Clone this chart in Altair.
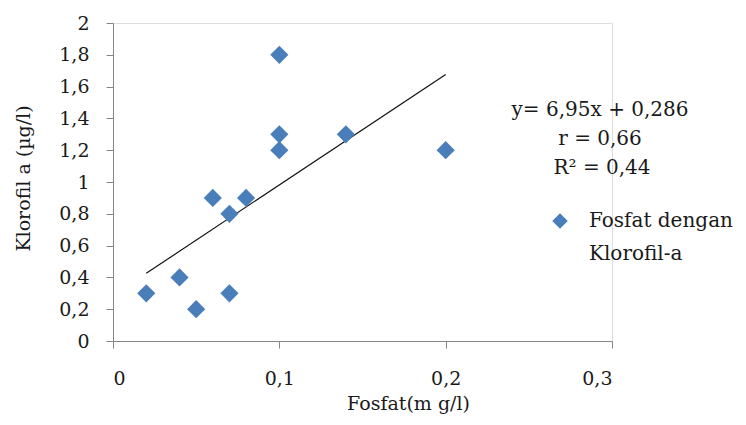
import altair as alt
import pandas as pd

fosfat = [0.02, 0.04, 0.05, 0.06, 0.07, 0.07, 0.08, 0.10, 0.10, 0.10, 0.14, 0.20]
klorofil = [0.3, 0.4, 0.2, 0.9, 0.8, 0.3, 0.9, 1.8, 1.3, 1.2, 1.3, 1.2]
series_name = "Fosfat dengan Klorofil-a"
legend_lines = ["Fosfat dengan", "Klorofil-a"]
x_ticks = [0, 0.1, 0.2, 0.3]
y_ticks = [0, 0.2, 0.4, 0.6, 0.8, 1.0, 1.2, 1.4, 1.6, 1.8, 2.0]
eq_lines = ["y= 6,95x + 0,286", "r = 0,66", "R² = 0,44"]
eq_x = [0.2928, 0.2928, 0.2940]
eq_y = [1.453, 1.270, 1.088]

df = pd.DataFrame({"x": fosfat, "y": klorofil, "s": [series_name] * len(fosfat)})
eq = pd.DataFrame({"t": eq_lines, "x": eq_x, "y": eq_y})

FONT = "DejaVu Serif"
TICK_FS = 19
TITLE_FS = 19
TEXT_FS = 20
INK = "#1a1a1a"

label_expr = "replace(format(datum.value, '.1~f'), '.', ',')"
xscale = alt.Scale(domain=[0, 0.3], nice=False, zero=True)
yscale = alt.Scale(domain=[0, 2], nice=False)

xaxis = alt.Axis(values=x_ticks, labelExpr=label_expr, labelOverlap=False,
                 grid=False, domainColor="#868686", tickColor="#868686", tickSize=7,
                 labelPadding=21, labelFont=FONT, labelFontSize=TICK_FS, labelColor=INK,
                 title="Fosfat(m g/l)", titleFont=FONT, titleFontSize=TITLE_FS,
                 titleFontWeight="normal", titleColor=INK, titleX=295, titleY=62,
                 titleBaseline="middle")
yaxis = alt.Axis(values=y_ticks, labelExpr=label_expr, labelOverlap=False,
                 grid=False, domainColor="#868686", tickColor="#868686", tickSize=7,
                 labelPadding=17, labelFont=FONT, labelFontSize=TICK_FS, labelColor=INK,
                 title="Klorofil a (µg/l)", titleFont=FONT, titleFontSize=TITLE_FS,
                 titleFontWeight="normal", titleColor=INK, titleX=-90, titleY=155,
                 titleBaseline="middle")

legend_expr = "[" + ", ".join("'" + s + "'" for s in legend_lines) + "]"

points = alt.Chart(df).mark_point(shape="diamond", filled=True, opacity=1, size=330).encode(
    x=alt.X("x:Q", scale=xscale, axis=xaxis),
    y=alt.Y("y:Q", scale=yscale, axis=yaxis),
    color=alt.Color("s:N", scale=alt.Scale(range=["#4a7ebb"]),
                    legend=alt.Legend(title=None, orient="none", legendX=437, legendY=188,
                                      labelFont=FONT, labelFontSize=TEXT_FS, labelColor=INK,
                                      symbolSize=240, labelOffset=19,
                                      labelExpr=legend_expr, labelLimit=300)),
)

line = alt.Chart(df).transform_regression("x", "y").mark_line(color="#111", strokeWidth=1.2).encode(
    x=alt.X("x:Q", scale=xscale, axis=xaxis),
    y=alt.Y("y:Q", scale=yscale, axis=yaxis),
)

text = alt.Chart(eq).mark_text(font=FONT, fontSize=TEXT_FS, color=INK, align="center",
                               baseline="middle").encode(
    x=alt.X("x:Q", scale=xscale, axis=xaxis),
    y=alt.Y("y:Q", scale=yscale, axis=yaxis),
    text="t:N",
)

chart = (line + points + text).properties(
    width=499, height=318,
    autosize=alt.AutoSizeParams(type="none"),
    padding={"left": 105, "top": 15, "right": 126, "bottom": 76},
).configure_view(stroke=None).configure(style={"guide-label": {"lineHeight": 33}})

chart.save("out.html", embed_options={"renderer": "svg", "actions": False})
